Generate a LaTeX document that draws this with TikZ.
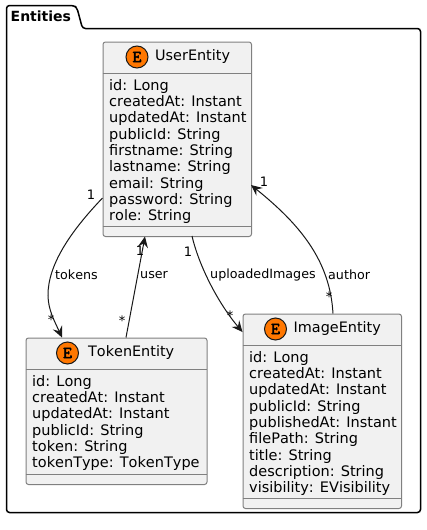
\documentclass[tikz,border=0pt]{standalone}
\usepackage{fontspec}
\setmainfont{DejaVu Sans}[Kerning=Off]
\newfontfamily\spotfont{Latin Modern Mono}[FakeBold=3]
\usetikzlibrary{arrows.meta}
\definecolor{boxfill}{HTML}{F1F1F1}
\definecolor{boxline}{HTML}{808080}
\definecolor{ink}{HTML}{181818}
\definecolor{spot}{HTML}{FF7700}
\tikzset{
  x=1pt,y=-1pt,
  classbox/.style={draw=boxline,fill=boxfill,line width=1pt,rounded corners=2.5pt,inner sep=0,anchor=north west},
  sepline/.style={draw=boxline,line width=1pt},
  title/.style={font=\fontsize{14.4}{16}\selectfont,text=black,inner sep=0,anchor=west},
  members/.style={font=\fontsize{14.5}{16.3}\selectfont,text=black,inner sep=0,anchor=north west,align=left},
  spotc/.style={circle,draw=ink,fill=spot,line width=1pt,minimum size=22pt,inner sep=0,font=\spotfont\fontsize{17}{17}\selectfont,text=black},
  link/.style={draw=ink,line width=1pt},
  linkto/.style={link,-{Stealth[length=11pt,width=10pt,inset=4pt]}},
  edgelab/.style={font=\fontsize{12.7}{15}\selectfont,text=black,inner sep=0,anchor=west},
  card/.style={font=\fontsize{13}{15}\selectfont,text=black,inner sep=0},
}
\begin{document}
\begin{tikzpicture}
\useasboundingbox (0,0) rectangle (426,530);
\fill[white] (0,0) rectangle (426,530);
% package
\draw[black,line width=1.5pt,rounded corners=3pt,fill=white] (6.5,28.5) -- (6.5,5.5) -- (74,5.5) -- (77,8) -- (82.5,28.5) -- (420.5,28.5) -- (420.5,512.5) -- (6.5,512.5) -- cycle;
\node[font=\bfseries\fontsize{14}{16}\selectfont,inner sep=0,anchor=west] (pkg) at (10.5,16.5) {Entities};
% UserEntity
\node[classbox,minimum width=148.5pt,minimum height=194.5pt] (user) at (102.5,41.5) {};
\draw[sepline] (102.5,73.5) -- (251,73.5) (102.5,226.5) -- (251,226.5);
\node[spotc] (userspot) at (137,57) {E};
\node[title] (usertitle) at (155,57) {UserEntity};
\node[members] (usermem) at (109,79) {id: Long\\createdAt: Instant\\updatedAt: Instant\\publicId: String\\firstname: String\\lastname: String\\email: String\\password: String\\role: String};
% TokenEntity
\node[classbox,minimum width=181pt,minimum height=146.5pt] (token) at (25.5,337.5) {};
\draw[sepline] (25.5,369.5) -- (206.5,369.5) (25.5,474.5) -- (206.5,474.5);
\node[spotc] (tokenspot) at (67.5,353) {E};
\node[title] (tokentitle) at (88,353) {TokenEntity};
\node[members] (tokenmem) at (32,375) {id: Long\\createdAt: Instant\\updatedAt: Instant\\publicId: String\\token: String\\tokenType: TokenType};
% ImageEntity
\node[classbox,minimum width=158.5pt,minimum height=194.5pt] (image) at (242.5,313.5) {};
\draw[sepline] (242.5,345.5) -- (401,345.5) (242.5,498.5) -- (401,498.5);
\node[spotc] (imagespot) at (275.5,329) {E};
\node[title] (imagetitle) at (293.5,329) {ImageEntity};
\node[members] (imagemem) at (249,351) {id: Long\\createdAt: Instant\\updatedAt: Instant\\publicId: String\\publishedAt: Instant\\filePath: String\\title: String\\description: String\\visibility: EVisibility};
% connectors
\coordinate (userA) at (102.5,198);
\coordinate (tokenA) at (62,337.5);
\coordinate (tokenB) at (126,337.5);
\coordinate (userB) at (145,236.5);
\coordinate (userC) at (192,236);
\coordinate (imageC) at (242.5,332);
\coordinate (imageD) at (333,313.5);
\coordinate (userD) at (251,185);
\draw[linkto] (userA) .. controls (70,232) and (48,265) .. (48,295) .. controls (48,310) and (55,322) .. (tokenA);
\draw[linkto] (tokenB) -- (userB);
\draw[linkto] (userC) .. controls (199,266) and (218,303) .. (imageC);
\draw[linkto] (imageD) .. controls (330,262) and (302,226) .. (userD);
% labels
\node[edgelab] (tokensl) at (55,275) {tokens};
\node[edgelab] (userl) at (140,275) {user};
\node[edgelab] (uploadl) at (210,275) {uploadedImages};
\node[edgelab] (authorl) at (328,275) {author};
\node[card] (c1) at (91,195) {1};
\node[card] (c2) at (51,320) {*};
\node[card] (c3) at (140,251) {1};
\node[card] (c4) at (122,321) {*};
\node[card] (c5) at (188,252) {1};
\node[card] (c6) at (230,316) {*};
\node[card] (c7) at (264,182) {1};
\node[card] (c8) at (329,297) {*};
\end{tikzpicture}
\end{document}
